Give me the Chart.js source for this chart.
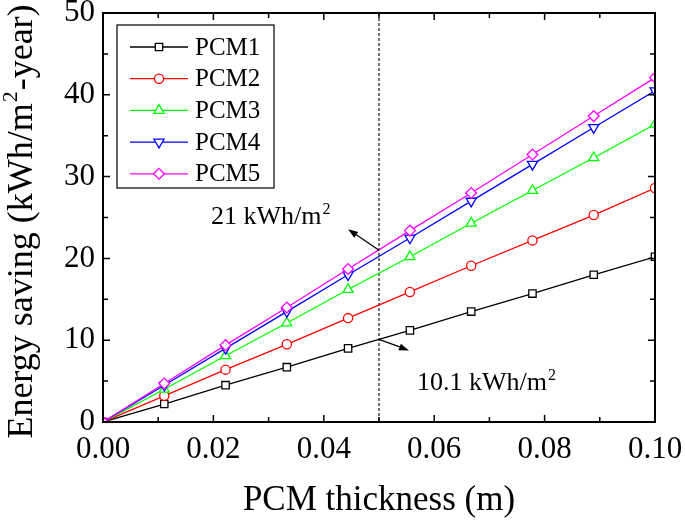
<!DOCTYPE html>
<html>
<head>
<meta charset="utf-8">
<script src="https://cdn.jsdelivr.net/npm/chart.js@4.4.1/dist/chart.umd.min.js"></script>
<style>
    html, body { margin: 0; padding: 0; background: #fff; }
    #wrap { width: 685px; height: 523px; }
</style>
</head>
<body>
<div id="wrap"><canvas id="chart" width="685" height="523"></canvas></div>
<script>
// Data
const thickness = [0, 0.0111, 0.0222, 0.0333, 0.0444, 0.0556, 0.0667, 0.0778, 0.0889, 0.1];
const pcm1 = [0, 2.2, 4.5, 6.7, 9.0, 11.2, 13.5, 15.7, 18.0, 20.2];
const pcm2 = [0, 3.2, 6.4, 9.5, 12.7, 15.9, 19.1, 22.2, 25.3, 28.6];
const pcm3 = [0, 4.0, 8.1, 12.1, 16.2, 20.2, 24.3, 28.3, 32.3, 36.4];
const pcm4 = [0, 4.5, 9.0, 13.5, 18.0, 22.5, 27.0, 31.5, 36.0, 40.5];
const pcm5 = [0, 4.7, 9.4, 14.0, 18.7, 23.4, 28.0, 32.7, 37.4, 42.1];
const seriesNames = ['PCM1', 'PCM2', 'PCM3', 'PCM4', 'PCM5'];
const seriesValues = [pcm1, pcm2, pcm3, pcm4, pcm5];

const xTicks = [0, 0.02, 0.04, 0.06, 0.08, 0.10];
const xMinorTicks = [0.01, 0.03, 0.05, 0.07, 0.09];
const yTicks = [0, 10, 20, 30, 40, 50];
const yMinorTicks = [5, 15, 25, 35, 45];

const markerThickness = 0.05;
const calloutValues = [21, 10.1];
const calloutLabels = ['21 kWh/m', '10.1 kWh/m'];
const yTitleParts = ['Energy saving (kWh/m', '2', '-year)'];

// Styles
const FONT = "'Liberation Serif', 'Times New Roman', serif";
const colors = ['#000000', '#ff0000', '#00ff00', '#0000ff', '#ff00ff'];
const markers = ['rect', 'circle', 'triangle', 'triangle', 'rectRot'];
const markerRot = [0, 0, 0, 180, 0];
const markerSize = [5.2, 4.6, 5.8, 5.8, 5.4];

const datasets = seriesNames.map((name, i) => ({
    label: name,
    data: thickness.map((x, j) => ({ x: x, y: seriesValues[i][j] })),
    borderColor: colors[i],
    borderWidth: 1.3,
    pointStyle: markers[i],
    pointRotation: markerRot[i],
    pointRadius: markerSize[i],
    pointBorderWidth: 1.3,
    pointBorderColor: colors[i],
    pointBackgroundColor: '#ffffff',
    tension: 0,
    order: seriesNames.length - i
}));

function arrow(ctx, x1, y1, x2, y2) {
    const ang = Math.atan2(y2 - y1, x2 - x1);
    const head = 10, half = 3.5;
    ctx.beginPath();
    ctx.moveTo(x1, y1);
    ctx.lineTo(x2 - Math.cos(ang) * head, y2 - Math.sin(ang) * head);
    ctx.stroke();
    ctx.beginPath();
    ctx.moveTo(x2, y2);
    ctx.lineTo(x2 - Math.cos(ang) * head - Math.sin(ang) * half, y2 - Math.sin(ang) * head + Math.cos(ang) * half);
    ctx.lineTo(x2 - Math.cos(ang) * head + Math.sin(ang) * half, y2 - Math.sin(ang) * head - Math.cos(ang) * half);
    ctx.closePath();
    ctx.fill();
}

function supText(ctx, text, sup, x, y) {
    ctx.font = '26px ' + FONT;
    ctx.textAlign = 'left';
    ctx.textBaseline = 'alphabetic';
    ctx.fillText(text, x, y);
    const w = ctx.measureText(text).width;
    ctx.font = '16px ' + FONT;
    ctx.fillText(sup, x + w + 1, y - 10);
}

const decorations = {
    id: 'decorations',
    beforeDatasetsDraw(chart) {
        const ctx = chart.ctx, xs = chart.scales.x, area = chart.chartArea;
        const px = xs.getPixelForValue(markerThickness);
        ctx.save();
        ctx.strokeStyle = '#000';
        ctx.lineWidth = 1.1;
        ctx.setLineDash([3, 2]);
        ctx.beginPath();
        ctx.moveTo(px, area.top);
        ctx.lineTo(px, area.bottom);
        ctx.stroke();
        ctx.restore();
    },
    afterDatasetsDraw(chart) {
        const ctx = chart.ctx, xs = chart.scales.x, ys = chart.scales.y, a = chart.chartArea;
        ctx.save();
        // frame
        ctx.strokeStyle = '#000';
        ctx.lineWidth = 2;
        ctx.strokeRect(a.left, a.top, a.right - a.left, a.bottom - a.top);
        // inward ticks on all four sides
        ctx.lineWidth = 1.5;
        ctx.beginPath();
        const tx = (v, len) => {
            const p = xs.getPixelForValue(v);
            ctx.moveTo(p, a.bottom); ctx.lineTo(p, a.bottom - len);
            ctx.moveTo(p, a.top); ctx.lineTo(p, a.top + len);
        };
        const ty = (v, len) => {
            const p = ys.getPixelForValue(v);
            ctx.moveTo(a.left, p); ctx.lineTo(a.left + len, p);
            ctx.moveTo(a.right, p); ctx.lineTo(a.right - len, p);
        };
        xTicks.forEach(v => tx(v, 7));
        xMinorTicks.forEach(v => tx(v, 5));
        yTicks.forEach(v => ty(v, 7));
        yMinorTicks.forEach(v => ty(v, 5));
        ctx.stroke();

        // callouts
        const px = xs.getPixelForValue(markerThickness);
        ctx.fillStyle = '#000';
        ctx.lineWidth = 1.3;
        const p1 = ys.getPixelForValue(calloutValues[0]);
        arrow(ctx, px, p1, px - 31, p1 - 21);
        supText(ctx, calloutLabels[0], '2', px - 168, p1 - 26);
        const p2 = ys.getPixelForValue(calloutValues[1]);
        arrow(ctx, px, p2, px + 30, p2 + 11);
        supText(ctx, calloutLabels[1], '2', px + 38, p2 + 51);

        // y axis title with superscript
        ctx.save();
        ctx.translate(32, (a.top + a.bottom) / 2 + 4);
        ctx.rotate(-Math.PI / 2);
        ctx.textAlign = 'left';
        ctx.textBaseline = 'alphabetic';
        ctx.font = '36px ' + FONT;
        const w0 = ctx.measureText(yTitleParts[0]).width;
        const w2 = ctx.measureText(yTitleParts[2]).width;
        ctx.font = '22px ' + FONT;
        const w1 = ctx.measureText(yTitleParts[1]).width;
        let tx0 = -(w0 + w1 + w2 + 2) / 2;
        ctx.font = '36px ' + FONT;
        ctx.fillText(yTitleParts[0], tx0, 0);
        ctx.font = '22px ' + FONT;
        ctx.fillText(yTitleParts[1], tx0 + w0 + 1, -15);
        ctx.font = '36px ' + FONT;
        ctx.fillText(yTitleParts[2], tx0 + w0 + w1 + 2, 0);
        ctx.restore();

        // legend box
        const lx = a.left + 14, ly = a.top + 12, lw = 157, lh = 163;
        ctx.fillStyle = '#fff';
        ctx.fillRect(lx, ly, lw, lh);
        ctx.strokeStyle = '#000';
        ctx.lineWidth = 1.2;
        ctx.strokeRect(lx, ly, lw, lh);
        seriesNames.forEach((name, i) => {
            const y = ly + 22 + i * 31.7;
            ctx.strokeStyle = colors[i];
            ctx.lineWidth = 1.3;
            ctx.beginPath();
            ctx.moveTo(lx + 13, y);
            ctx.lineTo(lx + 71, y);
            ctx.stroke();
            ctx.fillStyle = '#fff';
            Chart.helpers.drawPoint(ctx, {
                pointStyle: markers[i], rotation: markerRot[i],
                radius: markerSize[i], borderWidth: 1.3
            }, lx + 42, y);
            ctx.fillStyle = '#000';
            ctx.font = '25px ' + FONT;
            ctx.textAlign = 'left';
            ctx.textBaseline = 'middle';
            ctx.fillText(name, lx + 78, y + 1);
        });
        ctx.restore();
    }
};

new Chart(document.getElementById('chart'), {
    type: 'line',
    data: { datasets: datasets },
    options: {
        responsive: false,
        animation: false,
        devicePixelRatio: 1,
        layout: { padding: { top: 13, right: 30, left: 0, bottom: 0 } },
        plugins: { legend: { display: false }, tooltip: { enabled: false } },
        scales: {
            x: {
                type: 'linear',
                min: 0, max: 0.1,
                afterFit: s => { s.height = 101; s.paddingLeft = 0; s.paddingRight = 0; },
                afterBuildTicks: s => { s.ticks = xTicks.map(v => ({ value: v })); },
                grid: { display: false, drawTicks: false, tickLength: 0 },
                border: { display: false },
                ticks: {
                    color: '#000', padding: 9, maxRotation: 0, autoSkip: false,
                    font: { family: FONT, size: 31 },
                    callback: v => v.toFixed(2)
                },
                title: {
                    display: true, text: 'PCM thickness (m)', color: '#000',
                    font: { family: FONT, size: 35 }, padding: { top: 0, bottom: 1 }
                }
            },
            y: {
                type: 'linear',
                min: 0, max: 50,
                afterFit: s => { s.width = 103; s.paddingTop = 0; s.paddingBottom = 0; },
                afterBuildTicks: s => { s.ticks = yTicks.map(v => ({ value: v })); },
                grid: { display: false, drawTicks: false, tickLength: 0 },
                border: { display: false },
                ticks: {
                    color: '#000', padding: 8,
                    font: { family: FONT, size: 31 }
                },
                title: { display: false }
            }
        }
    },
    plugins: [decorations]
});
</script>
</body>
</html>
